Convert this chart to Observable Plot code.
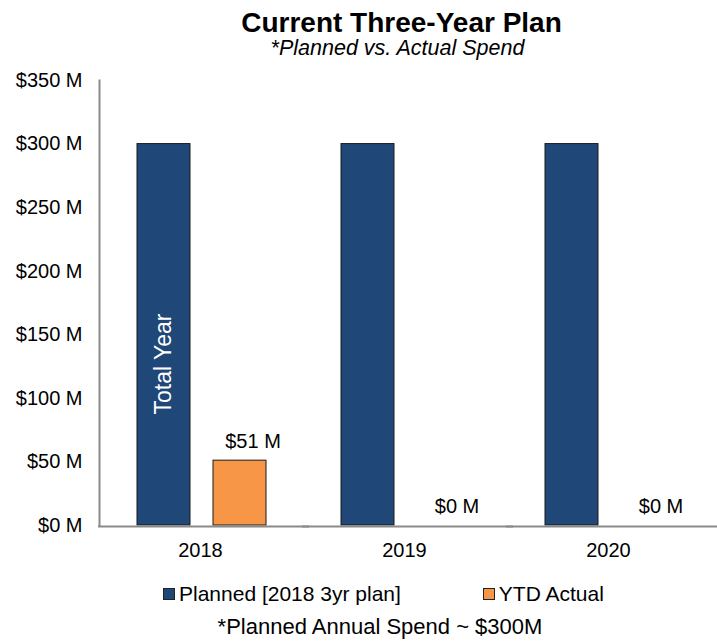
<!DOCTYPE html>
<html><head><meta charset="utf-8">
<script src="https://cdn.jsdelivr.net/npm/d3@7"></script>
<script src="https://cdn.jsdelivr.net/npm/@observablehq/plot@0.6"></script>
<style>
html,body{margin:0;padding:0;background:#fff;}
#wrap{position:relative;width:717px;height:641px;overflow:hidden;font-family:"Liberation Sans",Arial,sans-serif;color:#000;}
.abs{position:absolute;white-space:nowrap;}
#title{top:9px;left:0;width:803px;text-align:center;font-weight:bold;font-size:28px;line-height:28px;}
#subtitle{top:38px;left:0;width:795px;text-align:center;font-style:italic;font-size:21.5px;line-height:21.5px;}
#chart{top:62px;left:0;}
#legend{top:583px;left:163px;display:flex;align-items:center;font-size:21px;line-height:21px;}
.item{display:flex;align-items:center;}
.item + .item{margin-left:82px;}
.sw{width:10px;height:10px;border:1px solid #222;margin-right:4px;}
#caption{top:616px;left:0;width:760px;text-align:center;font-size:22px;line-height:22px;}
</style></head>
<body>
<div id="wrap">
  <div id="title" class="abs"></div>
  <div id="subtitle" class="abs"></div>
  <div id="chart" class="abs"></div>
  <div id="legend" class="abs"></div>
  <div id="caption" class="abs"></div>
</div>
<script>
const titleText = "Current Three-Year Plan";
const subtitleText = "*Planned vs. Actual Spend";
const captionText = "*Planned Annual Spend ~ $300M";
const totalYearLabel = "Total Year";

const years = ["2018", "2019", "2020"];
const seriesNames = ["Planned [2018 3yr plan]", "YTD Actual"];
const planned = [300, 300, 300];
const actual = [51, 0, 0];
const yTicks = [0, 50, 100, 150, 200, 250, 300, 350];
const seriesColors = ["#1F4778", "#F79646"];

const axisColor = "#8a8a8a";
const fontFamily = '"Liberation Sans", Arial, sans-serif';

const data = years.flatMap((year, i) => [
  {year, series: seriesNames[0], value: planned[i]},
  {year, series: seriesNames[1], value: actual[i]}
]);
const actualData = data.filter(d => d.series === seriesNames[1]);
const labelData = [{year: years[0], series: seriesNames[0], text: totalYearLabel}];

document.getElementById("title").textContent = titleText;
document.getElementById("subtitle").textContent = subtitleText;
document.getElementById("caption").textContent = captionText;

const legend = document.getElementById("legend");
seriesNames.forEach((name, i) => {
  const item = document.createElement("div");
  item.className = "item";
  const sw = document.createElement("div");
  sw.className = "sw";
  sw.style.background = seriesColors[i];
  const label = document.createElement("span");
  label.textContent = name;
  item.appendChild(sw);
  item.appendChild(label);
  legend.appendChild(item);
});

const chart = Plot.plot({
  width: 717,
  height: 508,
  marginLeft: 98,
  marginRight: 0,
  marginTop: 18,
  marginBottom: 45,
  style: {fontFamily, fontSize: "20px", color: "#000", background: "transparent", overflow: "visible"},
  fx: {domain: years, paddingInner: 0, paddingOuter: 0.017, align: 0, label: null, axis: "bottom", tickSize: 0, tickPadding: 17},
  x: {domain: seriesNames, paddingInner: 0.303, paddingOuter: 0.4935, align: 0.516, axis: null},
  y: {domain: [0, 350], ticks: yTicks, tickFormat: d => `$${d} M`, tickSize: 0, tickPadding: 16, label: null},
  color: {domain: seriesNames, range: seriesColors},
  marks: [
    Plot.barY(data.filter(d => d.value > 0), {fx: "year", x: "series", y: "value", fill: "series", stroke: "#1b1b1b", strokeWidth: 1}),
    Plot.text(actualData, {fx: "year", x: "series", y: "value", text: d => `$${d.value} M`, dy: -19, dx: 13, fontSize: 20, fill: "#000"}),
    Plot.text(labelData, {fx: "year", x: "series", y: () => 127, text: "text", rotate: -90, fill: "#fff", fontSize: 23}),
    Plot.ruleY([0], {stroke: axisColor, strokeWidth: 2, insetRight: -7, dy: 1}),
    Plot.frame({anchor: "left", fx: () => years[0], stroke: axisColor, strokeWidth: 2, dx: 1})
  ]
});
document.getElementById("chart").appendChild(chart);
</script>
</body></html>
